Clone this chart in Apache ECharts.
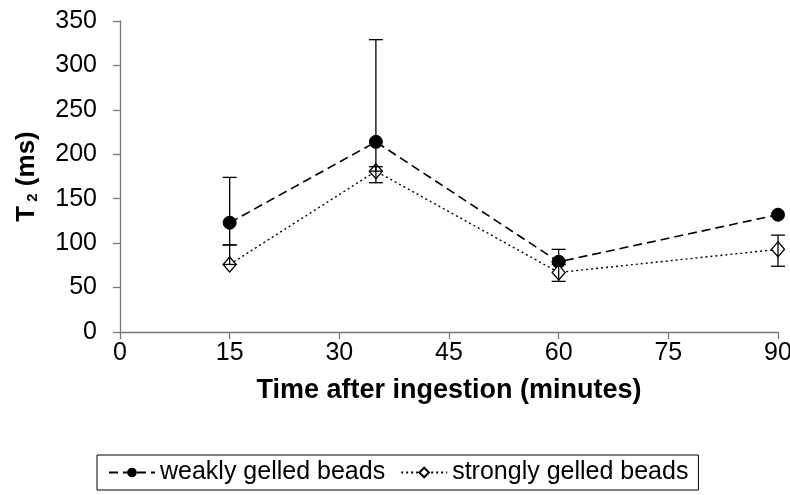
<!DOCTYPE html>
<html>
<head>
<meta charset="utf-8">
<script src="https://cdn.jsdelivr.net/npm/echarts@6/dist/echarts.min.js"></script>
<style>
  html, body { margin: 0; padding: 0; background: #fff; }
  #chart { width: 790px; height: 495px; }
</style>
</head>
<body>
<div id="chart"></div>
<script>
// Sampling times (minutes after ingestion)
const times = [15, 35, 60, 90];

// Mean T2 values (ms)
const weakly = [123, 214, 79, 132];
const strongly = [76, 181, 67, 93];

// Error bar extents (ms): upper and lower ends for each point
const weaklyHigh = [174, 329, 93, 132];
const weaklyLow = [98, 181, 79, 132];
const stronglyHigh = [98, 186, 76, 109];
const stronglyLow = [76, 168, 57, 74];

// Axis ticks
const xTicks = [0, 15, 30, 45, 60, 75, 90];
const yTicks = [0, 50, 100, 150, 200, 250, 300, 350];

const FONT = '"Liberation Sans", Arial, sans-serif';

function pairs(xs, ys) { return xs.map((x, i) => [x, ys[i]]); }

function errorSeries(name, low, high, z) {
  return {
    type: 'custom',
    name: name + '-err',
    z: z,
    silent: true,
    data: times.map((t, i) => [t, low[i], high[i]]),
    renderItem: function (params, api) {
      const x = api.value(0);
      const lo = api.coord([x, api.value(1)]);
      const hi = api.coord([x, api.value(2)]);
      const w = 7;
      const style = { stroke: '#000', lineWidth: 1.3, fill: null };
      const children = [];
      if (Math.abs(hi[1] - lo[1]) < 0.5) return { type: 'group', children: [] };
      children.push({ type: 'line', shape: { x1: lo[0], y1: lo[1], x2: hi[0], y2: hi[1] }, style: style });
      children.push({ type: 'line', shape: { x1: hi[0] - w, y1: hi[1], x2: hi[0] + w, y2: hi[1] }, style: style });
      children.push({ type: 'line', shape: { x1: lo[0] - w, y1: lo[1], x2: lo[0] + w, y2: lo[1] }, style: style });
      return { type: 'group', children: children };
    }
  };
}

const chart = echarts.init(document.getElementById('chart'), null, { renderer: 'canvas' });

chart.setOption({
  animation: false,
  backgroundColor: '#fff',
  textStyle: { fontFamily: FONT },
  grid: { left: 120, right: 12, top: 21, bottom: 163, containLabel: false, outerBoundsMode: 'none' },
  xAxis: {
    type: 'value',
    min: xTicks[0],
    max: xTicks[xTicks.length - 1],
    interval: 15,
    name: 'Time after ingestion (minutes)',
    nameLocation: 'middle',
    nameGap: 45,
    nameTextStyle: { fontFamily: FONT, fontSize: 27, fontWeight: 'bold', color: '#000' },
    axisLine: { onZero: false, lineStyle: { color: '#777', width: 1.3 } },
    axisTick: { show: true, length: 7, lineStyle: { color: '#777', width: 1.3 } },
    axisLabel: { fontFamily: FONT, fontSize: 25, color: '#000', margin: 9 },
    splitLine: { show: false }
  },
  yAxis: {
    type: 'value',
    min: yTicks[0],
    max: yTicks[yTicks.length - 1],
    interval: 50,
    name: '{t|T}{s| 2}{t| (ms)}',
    nameLocation: 'middle',
    nameGap: 80,
    nameRotate: 90,
    nameTextStyle: {
      rich: {
        t: { fontFamily: FONT, fontSize: 26, fontWeight: 'bold', color: '#000' },
        s: { fontFamily: FONT, fontSize: 15, fontWeight: 'bold', color: '#000', verticalAlign: 'bottom', padding: [12, 0, 0, 0] }
      }
    },
    axisLine: { show: true, lineStyle: { color: '#777', width: 1.3 } },
    axisTick: { show: true, length: 7, lineStyle: { color: '#777', width: 1.3 } },
    axisLabel: { fontFamily: FONT, fontSize: 25, color: '#000', margin: 23 },
    splitLine: { show: false }
  },
  legend: {
    left: 97,
    top: 455,
    padding: [5, 10, 5, 11],
    itemGap: 15,
    itemWidth: 46,
    itemHeight: 12,
    borderColor: '#000',
    borderWidth: 1,
    borderRadius: 0,
    textStyle: { fontFamily: FONT, fontSize: 25, color: '#000' },
    data: ['weakly gelled beads', 'strongly gelled beads']
  },
  series: [
    {
      name: 'weakly gelled beads',
      type: 'line',
      z: 3,
      data: pairs(times, weakly),
      symbol: 'circle',
      symbolSize: 13,
      itemStyle: { color: '#000', borderColor: '#000' },
      lineStyle: { color: '#000', width: 1.6, type: [9, 5] }
    },
    {
      name: 'strongly gelled beads',
      type: 'line',
      z: 3,
      data: pairs(times, strongly),
      symbol: 'diamond',
      symbolSize: [13, 15],
      itemStyle: { color: '#fff', borderColor: '#000', borderWidth: 1.3 },
      lineStyle: { color: '#000', width: 1.4, type: [2, 3] }
    },
    errorSeries('weakly', weaklyLow, weaklyHigh, 4),
    errorSeries('strongly', stronglyLow, stronglyHigh, 4)
  ]
});
</script>
</body>
</html>
